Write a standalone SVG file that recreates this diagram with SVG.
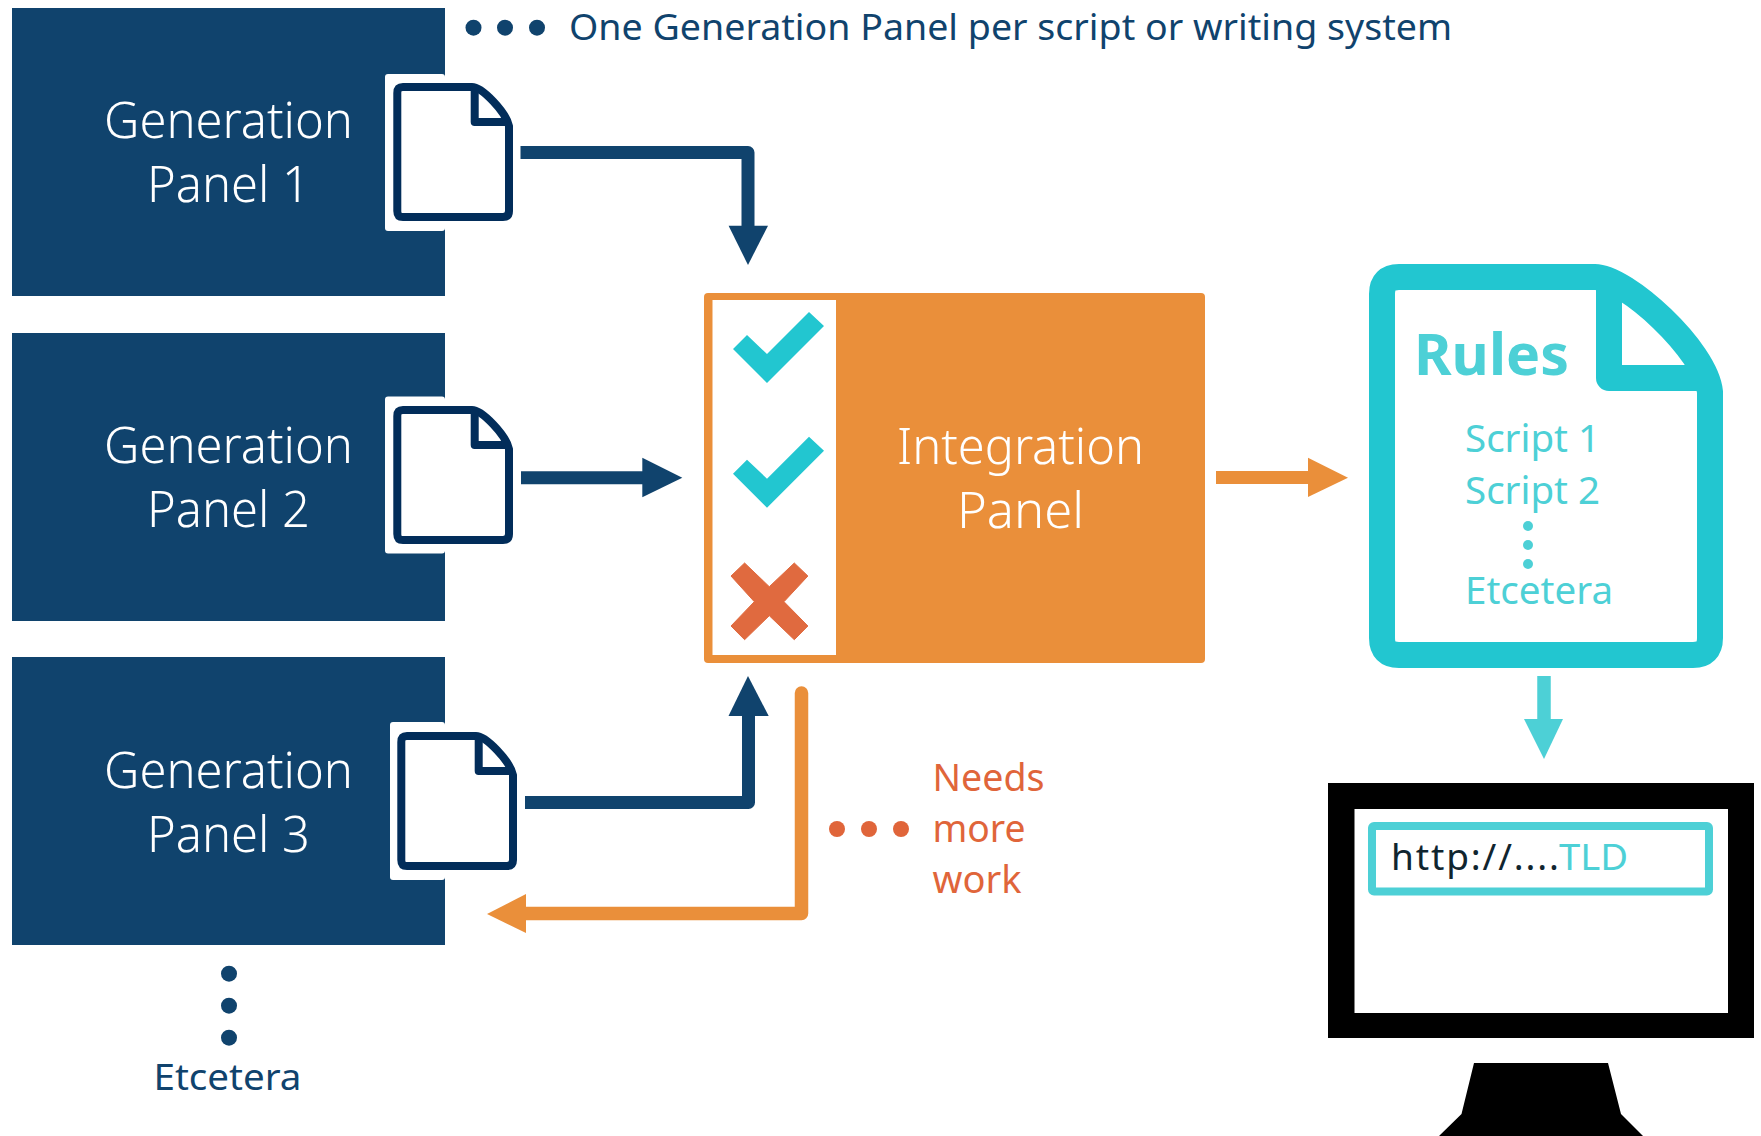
<svg xmlns="http://www.w3.org/2000/svg" width="1761" height="1136" viewBox="0 0 1761 1136">
<style>
text{font-family:"Noto Sans","Open Sans",sans-serif;font-weight:400;font-variant-ligatures:none}
.pt{fill:#fff;font-size:50px;font-weight:300}
.navy{fill:#10436d}
.head-navy{fill:#10436d}
.lt{fill:#4dd0d6}
.red{fill:#e0653a}
.conn{fill:none;stroke-linejoin:round}
</style>
<defs>
<g id="doc">
<path d="M403 87H472C482 87 506 112 509 126V211Q509 217 503 217H403Q397.300 217 397.300 211V93Q397.300 87 403 87Z" fill="#fff" stroke="#022d5a" stroke-width="8" stroke-linejoin="round"/>
<path d="M474.700 87V122H509" fill="none" stroke="#022d5a" stroke-width="8" stroke-linejoin="round"/>
</g>
<polygon id="check" points="733,349 747,335 767,354 809,312 824,326 767,383" fill="#22c6d0"/>
</defs>
<rect width="1761" height="1136" fill="#fff"/>

<g id="panel1">
<rect x="12" y="8" width="433" height="288" class="navy"/>
<text class="pt" x="104" y="138" textLength="249" lengthAdjust="spacingAndGlyphs">Generation</text>
<text class="pt" x="147" y="202" textLength="163" lengthAdjust="spacingAndGlyphs">Panel 1</text>
<rect x="385" y="74" width="60" height="157" rx="3" fill="#fff"/>
<use href="#doc"/>
</g>
<g id="panel2">
<rect x="12" y="333" width="433" height="288" class="navy"/>
<text class="pt" x="104" y="463" textLength="249" lengthAdjust="spacingAndGlyphs">Generation</text>
<text class="pt" x="147" y="527" textLength="163" lengthAdjust="spacingAndGlyphs">Panel 2</text>
<rect x="385" y="396.500" width="60" height="157" rx="3" fill="#fff"/>
<use href="#doc" y="323"/>
</g>
<g id="panel3">
<rect x="12" y="657" width="433" height="288" class="navy"/>
<text class="pt" x="104" y="788" textLength="249" lengthAdjust="spacingAndGlyphs">Generation</text>
<text class="pt" x="147" y="852" textLength="163" lengthAdjust="spacingAndGlyphs">Panel 3</text>
<rect x="390" y="722" width="55" height="158" rx="3" fill="#fff"/>
<use href="#doc" x="4" y="649"/>
</g>

<g id="note">
<circle cx="473.500" cy="27.700" r="8" class="navy"/><circle cx="505" cy="27.700" r="8" class="navy"/><circle cx="537" cy="27.700" r="8" class="navy"/>
<text class="navy" x="569" y="40" font-size="37" textLength="883" lengthAdjust="spacingAndGlyphs">One Generation Panel per script or writing system</text>
</g>

<g id="etcetera">
<circle cx="229" cy="973.700" r="8" class="navy"/><circle cx="229" cy="1005.700" r="8" class="navy"/><circle cx="229" cy="1037.700" r="8" class="navy"/>
<text class="navy" x="153.500" y="1089.500" font-size="37" textLength="148" lengthAdjust="spacingAndGlyphs">Etcetera</text>
</g>

<g id="integration">
<rect x="704" y="293" width="501" height="370" rx="4" fill="#ea8f3a"/>
<rect x="712.500" y="300" width="123.500" height="355" fill="#fff"/>
<use href="#check"/>
<use href="#check" y="124.700"/>
<polygon points="744.600,563 769.300,586.700 794.300,563 807.900,576 784,601.700 807.900,626 794.300,639.700 769.300,615.700 744.600,639.700 731,626 754.300,601.700 731,576" fill="#e06a3f" stroke="#e06a3f" stroke-width="1" stroke-linejoin="round"/>
<text class="pt" x="897" y="464" textLength="247" lengthAdjust="spacingAndGlyphs">Integration</text>
<text class="pt" x="957" y="528" textLength="127" lengthAdjust="spacingAndGlyphs">Panel</text>
</g>

<g id="rules">
<path d="M1399 277H1595C1625 277 1706 350 1710 392V638Q1710 655 1693 655H1399Q1382 655 1382 638V294Q1382 277 1399 277Z" fill="#fff" stroke="#22c6d0" stroke-width="26" stroke-linejoin="round"/>
<path d="M1609 277V378H1710" fill="none" stroke="#22c6d0" stroke-width="26" stroke-linejoin="round"/>
<text class="lt" x="1414" y="375" font-size="58" style="font-weight:700" textLength="155" lengthAdjust="spacingAndGlyphs">Rules</text>
<text class="lt" x="1465" y="451.500" font-size="38" textLength="135" lengthAdjust="spacingAndGlyphs">Script 1</text>
<text class="lt" x="1465" y="503.500" font-size="38" textLength="135" lengthAdjust="spacingAndGlyphs">Script 2</text>
<circle cx="1528" cy="526" r="5" class="lt"/><circle cx="1528" cy="545" r="5" class="lt"/><circle cx="1528" cy="564" r="5" class="lt"/>
<text class="lt" x="1465" y="604" font-size="38" textLength="148" lengthAdjust="spacingAndGlyphs">Etcetera</text>
</g>

<g id="monitor">
<rect x="1328" y="783" width="426" height="255"/>
<rect x="1354.500" y="809" width="373.500" height="204" fill="#fff"/>
<rect x="1372" y="826" width="337" height="65.500" rx="2" fill="none" stroke="#4dd0d6" stroke-width="8"/>
<text x="1391" y="870" font-size="37" fill="#10252f" textLength="168" lengthAdjust="spacing">http://....</text>
<text class="lt" x="1559" y="870" font-size="37" textLength="69" lengthAdjust="spacingAndGlyphs">TLD</text>
<polygon points="1474,1063 1608,1063 1621,1114 1643,1136 1439,1136 1461.500,1114"/>
</g>

<g id="needs">
<circle cx="837" cy="829" r="8" class="red"/><circle cx="869" cy="829" r="8" class="red"/><circle cx="901" cy="829" r="8" class="red"/>
<text class="red" x="932.500" y="790.500" font-size="38" textLength="112" lengthAdjust="spacingAndGlyphs">Needs</text>
<text class="red" x="932.500" y="842" font-size="38" textLength="93" lengthAdjust="spacingAndGlyphs">more</text>
<text class="red" x="932.500" y="893" font-size="38" textLength="89" lengthAdjust="spacingAndGlyphs">work</text>
</g>

<g id="connectors">
<path class="conn" d="M520.500 152.500H748V230" stroke="#10436d" stroke-width="13"/>
<polygon points="728.600,225.700 768,225.700 748,265" class="head-navy"/>
<path class="conn" d="M521 477.700H646" stroke="#10436d" stroke-width="13"/>
<polygon points="642.300,457.700 642.300,497.300 682.300,477.700" class="head-navy"/>
<path class="conn" d="M525 802.500H748.500V712" stroke="#10436d" stroke-width="13"/>
<polygon points="728.500,716 768.700,716 748,676" class="head-navy"/>
<path class="conn" d="M801.500 693V913.500H522" stroke="#ea8f3a" stroke-width="13.500" stroke-linecap="round"/>
<polygon points="526,894 526,933 487,914" fill="#ea8f3a"/>
<path class="conn" d="M1216 477.500H1312" stroke="#ea8f3a" stroke-width="13"/>
<polygon points="1308,457.700 1308,497 1348,477.700" fill="#ea8f3a"/>
<path class="conn" d="M1544 676V723" stroke="#4dd0d6" stroke-width="13.500"/>
<polygon points="1524,719 1563,719 1544,759" fill="#4dd0d6"/>
</g>
</svg>
